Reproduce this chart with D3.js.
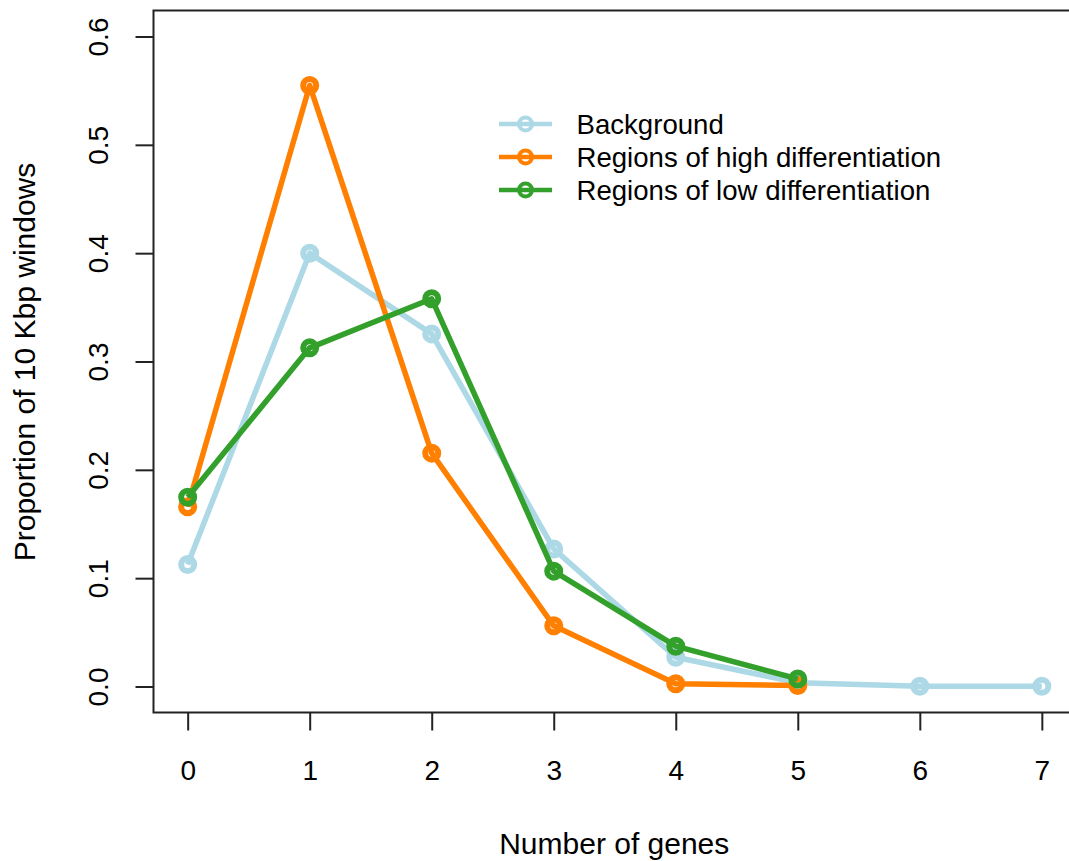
<!DOCTYPE html>
<html>
<head>
<meta charset="utf-8">
<script src="https://cdn.jsdelivr.net/npm/d3@7"></script>
<style>
  body { margin: 0; background: #fff; }
  svg text { font-family: "Liberation Sans", Arial, sans-serif; }
</style>
</head>
<body>
<script>
// dati
const genes = [0, 1, 2, 3, 4, 5, 6, 7];
const background = [0.1126, 0.400, 0.3255, 0.127, 0.027, 0.0035, 0.0003, 0.0002];
const highDiff = [0.166, 0.5548, 0.2154, 0.056, 0.0025, 0.001];
const lowDiff = [0.1747, 0.3126, 0.3579, 0.1065, 0.0372, 0.007];
const xTicks = [0, 1, 2, 3, 4, 5, 6, 7];
const yTicks = [0, 0.1, 0.2, 0.3, 0.4, 0.5, 0.6];
const seriesNames = ["Background", "Regions of high differentiation", "Regions of low differentiation"];
const seriesColors = ["#ADD8E6", "#FF7F00", "#33A02C"];

const width = 1069, height = 861;

const boxLeft = 153.5, boxRight = 1076, boxTop = 10.5, boxBottom = 712.5;

var svg = d3.select("body")
  .append("svg")
  .attr("width", width)
  .attr("height", height);

// scale con l'estensione del 4% come in R
var x = d3.scaleLinear().domain([-0.28, 7.28]).range([boxLeft, boxRight]);
var y = d3.scaleLinear().domain([-0.024, 0.624]).range([boxBottom, boxTop]);

// cornice
svg.append("rect")
  .attr("x", boxLeft).attr("y", boxTop)
  .attr("width", boxRight - boxLeft).attr("height", boxBottom - boxTop)
  .attr("fill", "none").attr("stroke", "#222").attr("stroke-width", 2);

// assi
var xAxis = svg.append("g")
  .attr("transform", "translate(0," + boxBottom + ")")
  .call(d3.axisBottom(x).tickValues(xTicks).tickSize(18).tickFormat(d3.format("d")));

var yAxis = svg.append("g")
  .attr("transform", "translate(" + boxLeft + ",0)")
  .call(d3.axisLeft(y).tickValues(yTicks).tickSize(18).tickFormat(d3.format(".1f")));

[xAxis, yAxis].forEach(function (a) {
  a.select(".domain").remove();
  a.selectAll(".tick line").attr("stroke", "#222").attr("stroke-width", 2);
  a.selectAll(".tick text").attr("fill", "#000").attr("font-size", 28);
});

// etichette asse x: linea di base a y = 780
xAxis.selectAll(".tick text").attr("y", 780 - boxBottom).attr("dy", null);

// etichette asse y ruotate, linea di base a x = 108
yAxis.selectAll(".tick text")
  .attr("x", null).attr("dy", null)
  .attr("text-anchor", "middle")
  .attr("transform", "translate(" + (108 - boxLeft) + ",0) rotate(-90)")
  .attr("y", 0);

// titoli degli assi
svg.append("text")
  .attr("x", (boxLeft + boxRight) / 2 - 0.5).attr("y", 854)
  .attr("text-anchor", "middle").attr("font-size", 30)
  .text("Number of genes");

svg.append("text")
  .attr("transform", "translate(35,362) rotate(-90)")
  .attr("text-anchor", "middle").attr("font-size", 30)
  .text("Proportion of 10 Kbp windows");

// serie
var allSeries = [background, highDiff, lowDiff];

var line = d3.line()
  .x(function (d, i) { return x(genes[i]); })
  .y(function (d) { return y(d); });

allSeries.forEach(function (vals, s) {
  svg.append("path")
    .datum(vals)
    .attr("d", line)
    .attr("fill", "none")
    .attr("stroke", seriesColors[s])
    .attr("stroke-width", 5.5)
    .attr("stroke-linejoin", "round");

  svg.selectAll(null)
    .data(vals)
    .enter()
    .append("circle")
    .attr("cx", function (d, i) { return x(genes[i]); })
    .attr("cy", function (d) { return y(d); })
    .attr("r", 6.5)
    .attr("fill", "none")
    .attr("stroke", seriesColors[s])
    .attr("stroke-width", 6);
});

// legenda
var legend = svg.append("g").attr("transform", "translate(499,124)");

seriesNames.forEach(function (name, i) {
  let g = legend.append("g").attr("transform", "translate(0," + (i * 33) + ")");
  g.append("line")
    .attr("x1", 0).attr("x2", 53)
    .attr("stroke", seriesColors[i]).attr("stroke-width", 4.5);
  g.append("circle")
    .attr("cx", 26.5).attr("r", 6.5)
    .attr("fill", "none").attr("stroke", seriesColors[i]).attr("stroke-width", 4);
  g.append("text")
    .attr("x", 77.5).attr("y", 10)
    .attr("font-size", 27.6)
    .text(name);
});
</script>
</body>
</html>
